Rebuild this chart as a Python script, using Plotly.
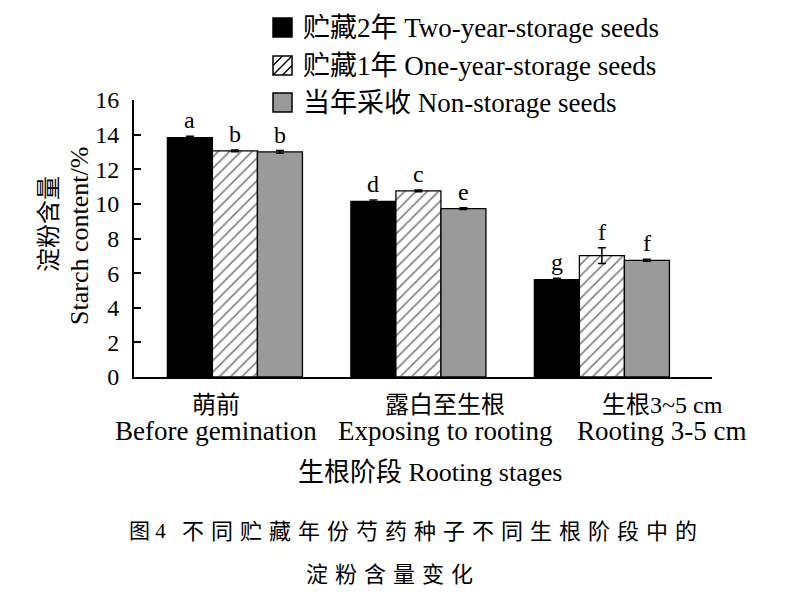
import plotly.graph_objects as go

# ---------------- data ----------------
stages_cn = ["萌前", "露白至生根", "生根3~5 cm"]
stages_en = ["Before gemination", "Exposing to rooting", "Rooting 3-5 cm"]
series_names = ["贮藏2年 Two-year-storage seeds",
                "贮藏1年 One-year-storage seeds",
                "当年采收 Non-storage seeds"]
two_year = [13.83, 10.15, 5.63]
two_year_err = [0.07, 0.08, 0.08]
one_year = [13.06, 10.75, 7.01]
one_year_err = [0.05, 0.05, 0.45]
non_storage = [13.00, 9.73, 6.74]
non_storage_err = [0.08, 0.05, 0.06]
letters_two = ["a", "d", "g"]
letters_one = ["b", "c", "f"]
letters_non = ["b", "e", "f"]
y_ticks = [0, 2, 4, 6, 8, 10, 12, 14, 16]
y_title_cn = "淀粉含量"
y_title_en = "Starch content/%"
x_title = "生根阶段 Rooting stages"
caption_fig = "图 4"
caption1 = "不同贮藏年份芍药种子不同生根阶段中的"
caption2 = "淀粉含量变化"

# ---------------- layout geometry ----------------
W, H = 795, 597
L, R, T, B = 134, 83, 100, 220
PW, PH = W - L - R, H - T - B
BARGAP = 0.264
FONT = "Liberation Serif, 'Noto Sans CJK SC', serif"


def px(x):
    return (x - L) / PW


def py(y):
    return (T + PH - y) / PH


x_idx = list(range(len(stages_cn)))
fig = go.Figure()

styles = [
    dict(color="black"),
    dict(color="white", pattern=dict(shape="/", fgcolor="black", bgcolor="white",
                                     size=8, solidity=0.2, fillmode="overlay")),
    dict(color="#9a9a9a"),
]
all_vals = [two_year, one_year, non_storage]
all_errs = [two_year_err, one_year_err, non_storage_err]
all_letters = [letters_two, letters_one, letters_non]

for name, vals, errs, st in zip(series_names, all_vals, all_errs, styles):
    fig.add_trace(go.Bar(
        x=x_idx, y=vals, name=name,
        marker=dict(**st, line=dict(color="black", width=1.3)),
        error_y=dict(type="data", array=errs, color="black", thickness=1.5, width=4),
        showlegend=False,
    ))

# significance letters
bw = (1 - BARGAP) / 3
for si, (vals, errs, lets) in enumerate(zip(all_vals, all_errs, all_letters)):
    for gi in x_idx:
        fig.add_annotation(x=gi + (si - 1) * bw, y=vals[gi] + errs[gi], text=lets[gi],
                           xref="x", yref="y", showarrow=False, yanchor="bottom",
                           yshift=1, font=dict(family=FONT, size=24, color="black"))

# category labels (two lines)
label_x = [216, 445, 662]
for cx, cn, en in zip(label_x, stages_cn, stages_en):
    fig.add_annotation(x=px(cx), y=py(405), xref="paper", yref="paper", text=cn,
                       showarrow=False, xanchor="center", yanchor="middle",
                       font=dict(family=FONT, size=24, color="black"))
    fig.add_annotation(x=px(cx), y=py(431), xref="paper", yref="paper", text=en,
                       showarrow=False, xanchor="center", yanchor="middle",
                       font=dict(family=FONT, size=27, color="black"))

# x-axis title
fig.add_annotation(x=px(430), y=py(472), xref="paper", yref="paper", text=x_title,
                   showarrow=False, xanchor="center", yanchor="middle",
                   font=dict(family=FONT, size=26, color="black"))

# y-axis titles
fig.add_annotation(x=px(49), y=py(224), xref="paper", yref="paper", text=y_title_cn,
                   showarrow=False, textangle=-90, xanchor="center", yanchor="middle",
                   font=dict(family=FONT, size=24, color="black"))
fig.add_annotation(x=px(79), y=py(236), xref="paper", yref="paper", text=y_title_en,
                   showarrow=False, textangle=-90, xanchor="center", yanchor="middle",
                   font=dict(family=FONT, size=26, color="black"))

# caption
fig.add_annotation(x=px(127), y=py(531), xref="paper", yref="paper",
                   text=caption_fig,
                   showarrow=False, xanchor="left", yanchor="middle",
                   font=dict(family=FONT, size=21, color="black"))
fig.add_annotation(x=px(180), y=py(531), xref="paper", yref="paper",
                   text='<span style="letter-spacing:7px">' + caption1 + '</span>',
                   showarrow=False, xanchor="left", yanchor="middle",
                   font=dict(family=FONT, size=22, color="black"))
fig.add_annotation(x=px(304), y=py(574), xref="paper", yref="paper",
                   text='<span style="letter-spacing:7px">' + caption2 + '</span>',
                   showarrow=False, xanchor="left", yanchor="middle",
                   font=dict(family=FONT, size=22, color="black"))

# manual legend
sw = 19
legend_rows = [27.5, 65.5, 102.5]
sx0 = 273
fills = ["black", "white", "#9a9a9a"]
for i, (cy, name) in enumerate(zip(legend_rows, series_names)):
    y0 = cy - sw / 2
    fig.add_shape(type="rect", xref="paper", yref="paper",
                  x0=px(sx0), x1=px(sx0 + sw), y0=py(y0 + sw), y1=py(y0),
                  fillcolor=fills[i], line=dict(color="black", width=1.5))
    if i == 1:
        segs = []
        s = 9.5
        c = s
        while c < 2 * sw - 1:
            if c <= sw:
                a, b = (sx0, y0 + c), (sx0 + c, y0)
            else:
                a, b = (sx0 + c - sw, y0 + sw), (sx0 + sw, y0 + c - sw)
            segs.append(f"M{px(a[0])},{py(a[1])} L{px(b[0])},{py(b[1])}")
            c += s
        fig.add_shape(type="path", xref="paper", yref="paper", path=" ".join(segs),
                      line=dict(color="black", width=1.4))
    fig.add_annotation(x=px(301), y=py(cy), xref="paper", yref="paper", text=name,
                       showarrow=False, xanchor="left", yanchor="middle",
                       font=dict(family=FONT, size=27, color="black"))

fig.update_layout(
    width=W, height=H,
    margin=dict(l=L, r=R, t=T, b=B, pad=0),
    paper_bgcolor="white", plot_bgcolor="white",
    barmode="group", bargap=BARGAP, bargroupgap=0,
    showlegend=False,
    font=dict(family=FONT, color="black"),
)
fig.update_xaxes(range=[-0.55, 2.6], showline=True, linecolor="black", linewidth=2,
                 ticks="", showticklabels=False, showgrid=False, zeroline=False)
fig.update_yaxes(range=[0, 16], tickvals=y_ticks, showline=True, linecolor="black",
                 linewidth=2, ticks="inside", ticklen=7, tickwidth=1.5, tickcolor="black",
                 ticklabelstandoff=8, showgrid=False, zeroline=False,
                 tickfont=dict(family=FONT, size=24, color="black"))

fig.write_html("out.html")
